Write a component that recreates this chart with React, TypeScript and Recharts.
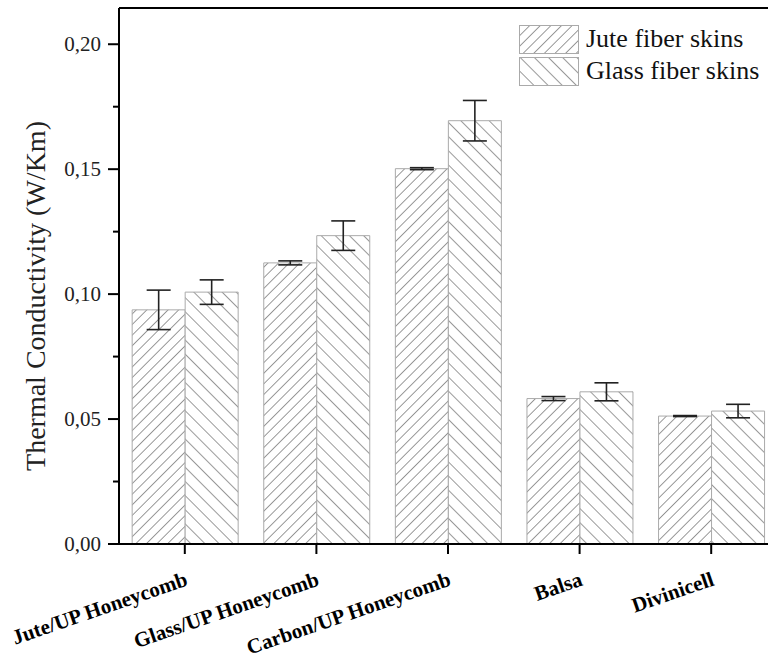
import React from "react"
import { BarChart, Bar, XAxis, YAxis, ErrorBar, ReferenceLine } from "recharts"

const categories = ["Jute/UP Honeycomb", "Glass/UP Honeycomb", "Carbon/UP Honeycomb", "Balsa", "Divinicell"]
const juteValues = [0.0937, 0.1125, 0.1502, 0.0582, 0.0512]
const juteErrors = [0.0079, 0.0008, 0.0004, 0.0008, 0.0002]
const glassValues = [0.1008, 0.1234, 0.1694, 0.0609, 0.0532]
const glassErrors = [0.0049, 0.0059, 0.0081, 0.0036, 0.0027]
const yTicks = [0, 0.025, 0.05, 0.075, 0.1, 0.125, 0.15, 0.175, 0.2]
const majorTicks = [0, 0.05, 0.1, 0.15, 0.2]
const yMax = 0.2145

const data = categories.map((name, i) => ({
  name,
  jute: juteValues[i],
  juteErr: juteErrors[i],
  glass: glassValues[i],
  glassErr: glassErrors[i],
}))

const FONT = "'Liberation Serif', 'Times New Roman', serif"
const fmt = (v: number) => v.toFixed(2).replace(".", ",")

const YTick = ({ x, y, payload }: any) => {
  const major = majorTicks.some((m) => Math.abs(m - payload.value) < 1e-9)
  return (
    <g>
      <line x1={x - (major ? 11 : 6)} x2={x} y1={y} y2={y} stroke="#000" strokeWidth={2} />
      {major && (
        <text x={x - 18} y={y} dy={7} textAnchor="end" fontSize={21} fill="#222" fontFamily={FONT}>
          {fmt(payload.value)}
        </text>
      )}
    </g>
  )
}

const XTick = ({ x, y, payload }: any) => (
  <text
    transform={`translate(${x + 4},${y + 31}) rotate(-19)`}
    textAnchor="end"
    fontSize={21}
    fontWeight="bold"
    fill="#000"
    fontFamily={FONT}
  >
    {payload.value}
  </text>
)

const legendItems = [
  { label: "Jute fiber skins", fill: "url(#hatchJute)" },
  { label: "Glass fiber skins", fill: "url(#hatchGlass)" },
]

const LegendBox = () => (
  <div style={{ position: "absolute", left: 519, top: 23, fontFamily: FONT }}>
    {legendItems.map((it) => (
      <div key={it.label} style={{ display: "flex", alignItems: "center", height: 32 }}>
        <svg width={60} height={29} style={{ display: "block" }}>
          <rect x={0.5} y={0.5} width={59} height={28} fill={it.fill} stroke="#aaa" />
        </svg>
        <span style={{ fontSize: 26, marginLeft: 7, color: "#111", lineHeight: "28px" }}>{it.label}</span>
      </div>
    ))}
  </div>
)

export default function App() {
  return (
    <div style={{ position: "absolute", left: 0, top: 0, width: 768, height: 663, overflow: "hidden", background: "#fff" }}>
      <svg width={0} height={0} style={{ position: "absolute" }}>
        <defs>
          <pattern id="hatchJute" patternUnits="userSpaceOnUse" width={7.5} height={7.5} patternTransform="rotate(45)">
            <rect width={7.5} height={7.5} fill="#fff" />
            <line x1={0} y1={0} x2={0} y2={7.5} stroke="#555" strokeWidth={1.2} />
          </pattern>
          <pattern id="hatchGlass" patternUnits="userSpaceOnUse" width={10} height={10} patternTransform="rotate(-45)">
            <rect width={10} height={10} fill="#fff" />
            <line x1={0} y1={0} x2={0} y2={10} stroke="#555" strokeWidth={1.2} />
          </pattern>
        </defs>
      </svg>
      <BarChart
        width={800}
        height={663}
        data={data}
        margin={{ top: 8, right: 23, left: 39, bottom: 19 }}
        barCategoryGap="10%"
        barGap={0}
        style={{ fontFamily: FONT }}
      >
        <XAxis
          dataKey="name"
          height={100}
          tickSize={10}
          tickMargin={0}
          axisLine={{ stroke: "#000", strokeWidth: 2 }}
          tickLine={{ stroke: "#000", strokeWidth: 2 }}
          tick={<XTick />}
          interval={0}
        />
        <YAxis
          width={80}
          domain={[0, yMax]}
          ticks={yTicks}
          tickSize={0}
          tickMargin={0}
          tickLine={false}
          axisLine={{ stroke: "#000", strokeWidth: 2 }}
          tick={<YTick />}
          interval={0}
        />
        <ReferenceLine y={yMax} stroke="#000" strokeWidth={2} />
        <Bar dataKey="jute" name="Jute fiber skins" fill="url(#hatchJute)" stroke="#aaa" strokeWidth={1} isAnimationActive={false}>
          <ErrorBar dataKey="juteErr" width={12} stroke="#222" strokeWidth={1.6} />
        </Bar>
        <Bar dataKey="glass" name="Glass fiber skins" fill="url(#hatchGlass)" stroke="#aaa" strokeWidth={1} isAnimationActive={false}>
          <ErrorBar dataKey="glassErr" width={12} stroke="#222" strokeWidth={1.6} />
        </Bar>
        <text
          transform="translate(45,296) rotate(-90)"
          textAnchor="middle"
          fontSize={28}
          fill="#222"
          fontFamily={FONT}
        >
          Thermal Conductivity (W/Km)
        </text>
      </BarChart>
      <LegendBox />
    </div>
  )
}
